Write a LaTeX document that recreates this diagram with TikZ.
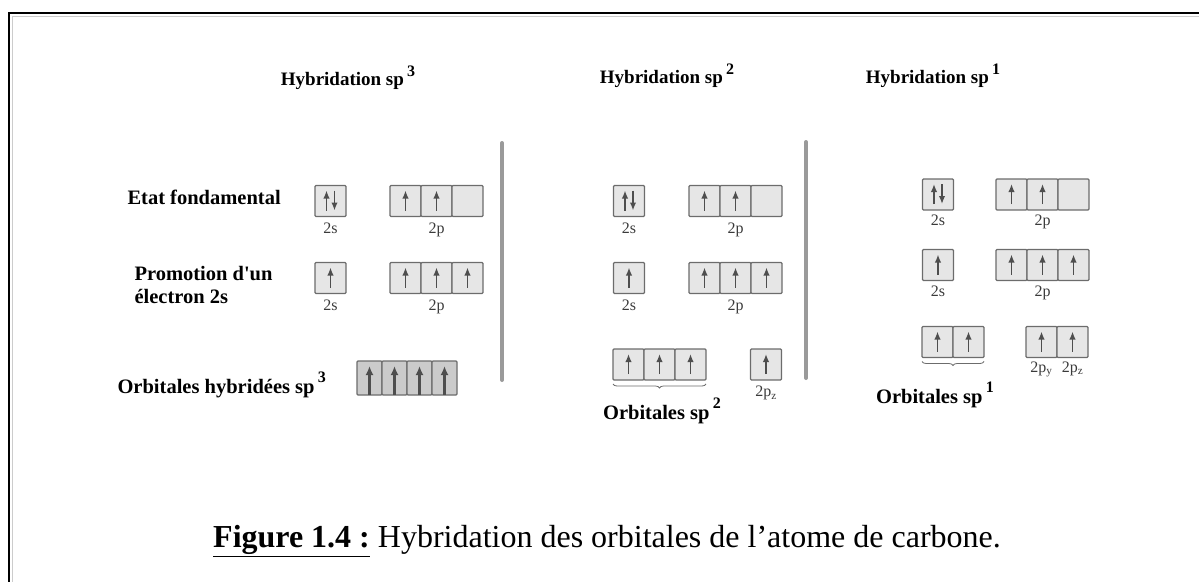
\documentclass[tikz,border=0pt]{standalone}
\usepackage{fontspec}
\setmainfont{Liberation Serif}
\usetikzlibrary{arrows.meta,positioning,decorations.pathreplacing}
\definecolor{cellfill}{HTML}{E6E6E6}
\definecolor{hybfill}{HTML}{CBCBCB}
\definecolor{celledge}{HTML}{6C6C6C}
\definecolor{elecgray}{HTML}{4E4E4E}
\definecolor{subgray}{HTML}{3A3A3A}
\definecolor{sepgray}{HTML}{9A9A9A}
% electrons drawn inside a cell
\newcommand{\elup}[1]{\draw[elec] ([yshift=6]#1.south) -- ([yshift=-5]#1.north);}
\newcommand{\elpair}[1]{%
	\draw[elec] ([xshift=-4,yshift=6]#1.south) -- ([xshift=-4,yshift=-5]#1.north);
	\draw[elec] ([xshift=4,yshift=-5]#1.north) -- ([xshift=4,yshift=6]#1.south);}
\newcommand{\hybup}[1]{\draw[helec] (#1.south) -- ([yshift=-5]#1.north);}
\newcommand{\expo}[1]{\,\raisebox{0.5em}{\fontsize{16}{16}\selectfont #1}}
\tikzset{
	cell/.style={draw=celledge, fill=cellfill, line width=1.3, minimum width=31, minimum height=31, inner sep=0, outer sep=0, rounded corners=1},
	hcell/.style={cell, fill=hybfill, minimum width=25, minimum height=34},
	elec/.style={-{Latex[length=8pt,width=6.5pt]}, draw=elecgray, line width=1.6},
	helec/.style={-{Latex[length=9pt,width=8pt]}, draw=elecgray, line width=2.4},
	title/.style={font=\fontsize{19}{22}\selectfont\bfseries},
	lbl/.style={font=\fontsize{20.5}{23}\selectfont\bfseries, anchor=west, align=left},
	sub/.style={font=\fontsize{16}{18}\selectfont, text=subgray, inner sep=1},
	brc/.style={decorate, decoration={brace, mirror, amplitude=4}, draw=celledge, line width=0.8},
}

\begin{document}
\begin{tikzpicture}[x=1pt, y=-1pt]
	\useasboundingbox (0,0) rectangle (1199,581);
	\draw[gray!40, line width=1] (1210,16) -- (12,16) -- (12,590);
	\draw[line width=2] (1210,13) -- (9,13) -- (9,590);
	%
	\node[title] (t3) at (348,78) {Hybridation sp\expo{3}};
	\node[title] (t2) at (667,76) {Hybridation sp\expo{2}};
	\node[title] (t1) at (933,76) {Hybridation sp\expo{1}};
	%
	\node[lbl] (etat) at (124,197) {Etat fondamental};
	\node[lbl] (promo) at (131,285) {Promotion d\textquotesingle un\\électron 2s};
	\node[lbl] (orb3) at (114,385) {Orbitales hybridées sp\expo{3}};
	%
	\draw[sepgray, line width=4, line cap=round] (502,143) -- (502,380);
	\draw[sepgray, line width=4, line cap=round] (806,142) -- (806,378);
	% sp3 column
	\node[cell] (s3a) at (330.5,201) {};
	\node[cell] (p3a1) at (405.5,201) {};
	\node[cell, right=0pt of p3a1] (p3a2) {};
	\node[cell, right=0pt of p3a2] (p3a3) {};
	\node[sub, below=5pt of s3a] (ls3a) {2s};
	\node[sub, below=5pt of p3a2] (lp3a) {2p};
	\elpair{s3a} \elup{p3a1} \elup{p3a2}
	%
	\node[cell] (s3b) at (330.5,278) {};
	\node[cell] (p3b1) at (405.5,278) {};
	\node[cell, right=0pt of p3b1] (p3b2) {};
	\node[cell, right=0pt of p3b2] (p3b3) {};
	\node[sub, below=5pt of s3b] (ls3b) {2s};
	\node[sub, below=5pt of p3b2] (lp3b) {2p};
	\elup{s3b} \elup{p3b1} \elup{p3b2} \elup{p3b3}
	%
	\node[hcell] (h3a) at (369.5,378) {};
	\node[hcell, right=0pt of h3a] (h3b) {};
	\node[hcell, right=0pt of h3b] (h3c) {};
	\node[hcell, right=0pt of h3c] (h3d) {};
	\hybup{h3a} \hybup{h3b} \hybup{h3c} \hybup{h3d}
	% sp2 column
	\node[cell] (s2a) at (629,201) {};
	\node[cell] (p2a1) at (704.5,201) {};
	\node[cell, right=0pt of p2a1] (p2a2) {};
	\node[cell, right=0pt of p2a2] (p2a3) {};
	\node[sub, below=5pt of s2a] (ls2a) {2s};
	\node[sub, below=5pt of p2a2] (lp2a) {2p};
	\elpair{s2a} \elup{p2a1} \elup{p2a2}
	%
	\node[cell] (s2b) at (629,278) {};
	\node[cell] (p2b1) at (704.5,278) {};
	\node[cell, right=0pt of p2b1] (p2b2) {};
	\node[cell, right=0pt of p2b2] (p2b3) {};
	\node[sub, below=5pt of s2b] (ls2b) {2s};
	\node[sub, below=5pt of p2b2] (lp2b) {2p};
	\elup{s2b} \elup{p2b1} \elup{p2b2} \elup{p2b3}
	%
	\node[cell] (h2a) at (628.5,364.5) {};
	\node[cell, right=0pt of h2a] (h2b) {};
	\node[cell, right=0pt of h2b] (h2c) {};
	\node[cell] (pz2) at (766,364.5) {};
	\elup{h2a} \elup{h2b} \elup{h2c} \elup{pz2}
	\draw[brc] ([yshift=-4]h2a.south west) -- ([yshift=-4]h2c.south east);
	\node[sub, below=5pt of pz2] (lpz2) {2p\textsubscript{z}};
	\node[lbl, anchor=center] (orb2) at (662,411) {Orbitales sp\expo{2}};
	% sp1 column
	\node[cell] (s1a) at (938,194.5) {};
	\node[cell] (p1a1) at (1011.5,194.5) {};
	\node[cell, right=0pt of p1a1] (p1a2) {};
	\node[cell, right=0pt of p1a2] (p1a3) {};
	\node[sub, below=4pt of s1a] (ls1a) {2s};
	\node[sub, below=4pt of p1a2] (lp1a) {2p};
	\elpair{s1a} \elup{p1a1} \elup{p1a2}
	%
	\node[cell] (s1b) at (938,265) {};
	\node[cell] (p1b1) at (1011.5,265) {};
	\node[cell, right=0pt of p1b1] (p1b2) {};
	\node[cell, right=0pt of p1b2] (p1b3) {};
	\node[sub, below=4pt of s1b] (ls1b) {2s};
	\node[sub, below=4pt of p1b2] (lp1b) {2p};
	\elup{s1b} \elup{p1b1} \elup{p1b2} \elup{p1b3}
	%
	\node[cell] (h1a) at (937.5,342) {};
	\node[cell, right=0pt of h1a] (h1b) {};
	\node[cell] (py1) at (1041.5,342) {};
	\node[cell, right=0pt of py1] (pz1) {};
	\elup{h1a} \elup{h1b} \elup{py1} \elup{pz1}
	\draw[brc] ([yshift=-4]h1a.south west) -- ([yshift=-4]h1b.south east);
	\node[sub, below=3pt of py1] (lpy1) {2p\textsubscript{y}};
	\node[sub, below=3pt of pz1] (lpz1) {2p\textsubscript{z}};
	\node[lbl, anchor=center] (orb1) at (935,395) {Orbitales sp\expo{1}};
	%
	\node[font=\fontsize{32}{36}\selectfont] (cap) at (607,541) {\underline{\textbf{Figure 1.4 :}} Hybridation des orbitales de l’atome de carbone.};
\end{tikzpicture}
\end{document}
